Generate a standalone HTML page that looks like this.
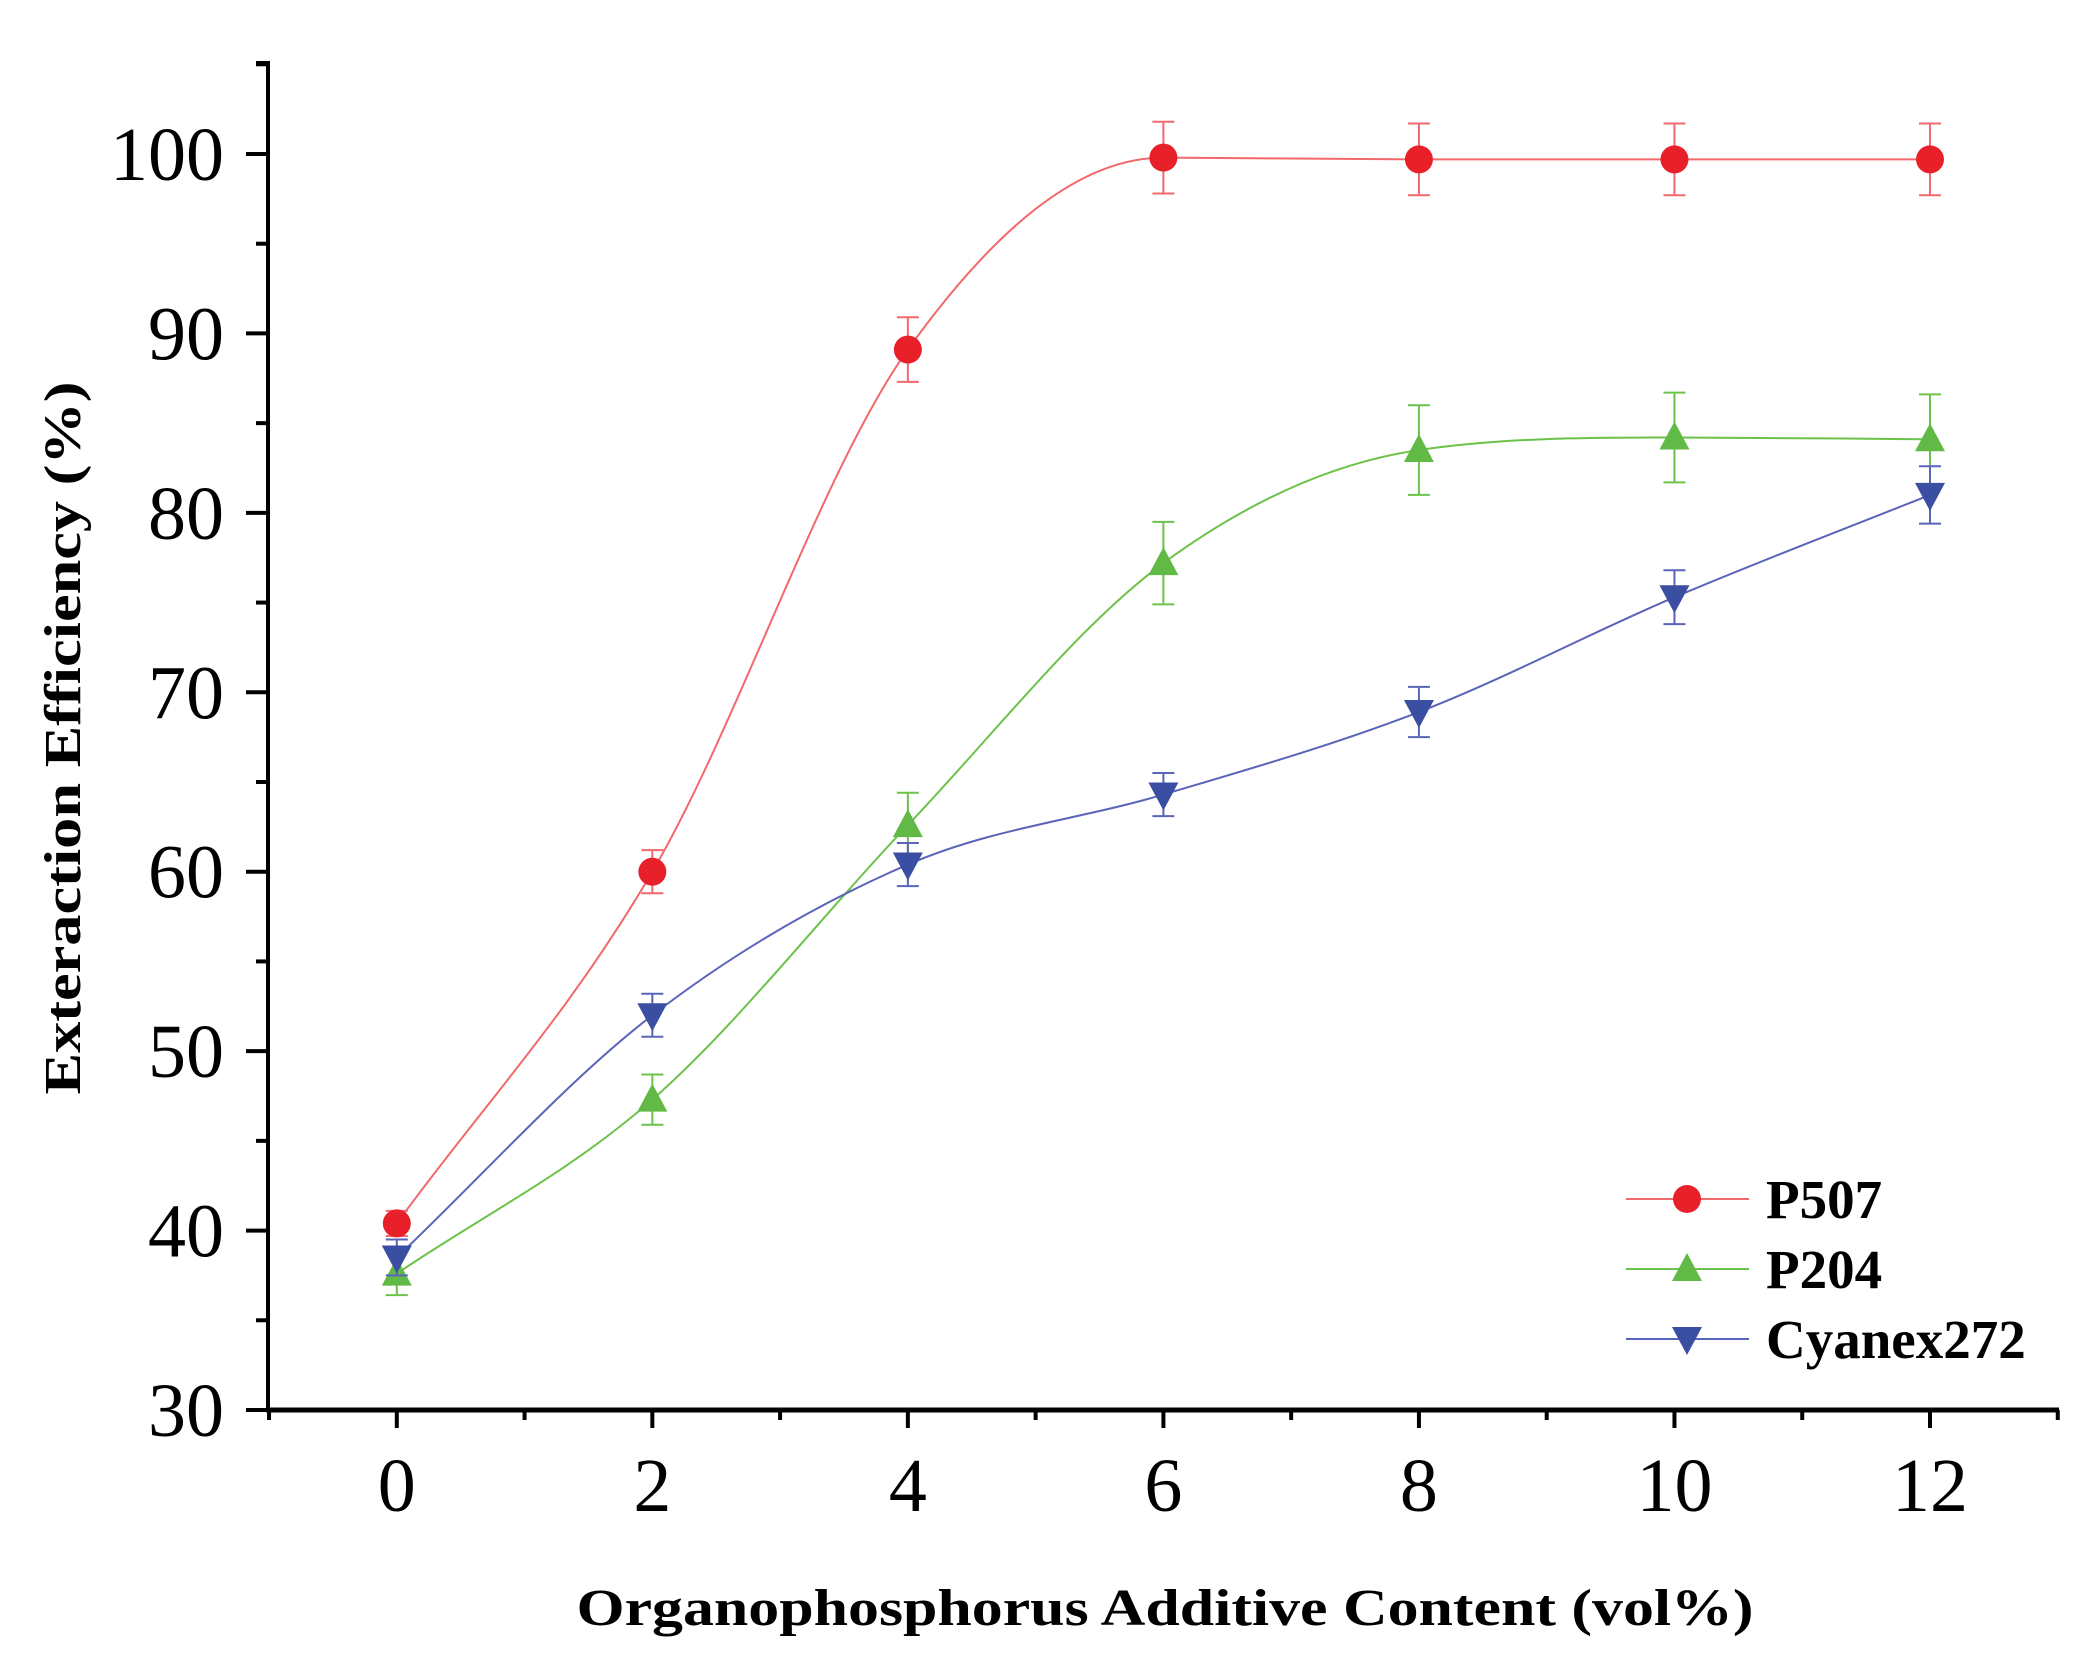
<!DOCTYPE html>
<html><head><meta charset="utf-8"><style>
html,body{margin:0;padding:0;background:#fff;}
svg{display:block;}
</style></head><body>
<svg id="chart" width="2091" height="1668" viewBox="0 0 2091 1668" xmlns="http://www.w3.org/2000/svg">
<g id="axes"></g>
<g id="series"></g>
<g id="legend"></g>
<text x="1165" y="1625" text-anchor="middle" font-family="Liberation Serif, serif" font-weight="bold" font-size="52" textLength="1177" lengthAdjust="spacingAndGlyphs">Organophosphorus Additive Content (vol%)</text>
<text transform="translate(80,738) rotate(-90)" text-anchor="middle" font-family="Liberation Serif, serif" font-weight="bold" font-size="52" textLength="713" lengthAdjust="spacingAndGlyphs">Exteraction Efficiency (%)</text>
</svg>
<script>
const xValues = [0, 2, 4, 6, 8, 10, 12];
const p507 = [40.4, 60.0, 89.1, 99.8, 99.7, 99.7, 99.7];
const p507Err = [0.7, 1.2, 1.8, 2.0, 2.0, 2.0, 2.0];
const p204 = [37.6, 47.3, 62.6, 77.2, 83.5, 84.2, 84.1];
const p204Err = [1.2, 1.4, 1.8, 2.3, 2.5, 2.5, 2.5];
const cyanex = [38.5, 52.0, 60.4, 64.3, 68.9, 75.3, 81.0];
const cyanexErr = [1.0, 1.2, 1.2, 1.2, 1.4, 1.5, 1.6];
const xTicks = [0, 2, 4, 6, 8, 10, 12];
const yTicks = [30, 40, 50, 60, 70, 80, 90, 100];
const seriesNames = ["P507", "P204", "Cyanex272"];

const NS = "http://www.w3.org/2000/svg";
function X(v){ return 396.8 + (v - 0) * (1930 - 396.8) / 12; }
function Y(v){ return 1410 - (v - 30) * (1410 - 154) / 70; }
function mk(tag, attrs, parent){
  const e = document.createElementNS(NS, tag);
  for (const k in attrs) e.setAttribute(k, attrs[k]);
  parent.appendChild(e);
  return e;
}
const axes = document.getElementById('axes');
const ser = document.getElementById('series');
const leg = document.getElementById('legend');

let l = mk('line', {x1:268, y1:63, x2:268, y2:1412, stroke:'#000', 'stroke-width':4}, axes);


l = mk('line', {x1:266, y1:1410, x2:2059, y2:1410, stroke:'#000', 'stroke-width':5}, axes);


l = mk('line', {x1:256, y1:63, x2:270, y2:63, stroke:'#000', 'stroke-width':4}, axes);



for (let v = 30; v <= 105; v += 5) {
  const major = v % 10 === 0;
  const t = mk('line', {x1: major ? 246 : 256, y1: Y(v), x2: 268, y2: Y(v), stroke:'#000', 'stroke-width':4}, axes);
  
  
}
yTicks.forEach(v => {
  const t = mk('text', {x:224, y:Y(v)+26, 'text-anchor':'end', 'font-family':'Liberation Serif, serif', 'font-size':76}, axes);
  t.textContent = v;
  
  
});
for (let v = -1; v <= 13; v += 1) {
  const major = v % 2 === 0;
  const t = mk('line', {x1:X(v), y1:1410, x2:X(v), y2: major ? 1428 : 1420, stroke:'#000', 'stroke-width':4}, axes);
  
  
}
xTicks.forEach(v => {
  const t = mk('text', {x:X(v), y:1511, 'text-anchor':'middle', 'font-family':'Liberation Serif, serif', 'font-size':76}, axes);
  t.textContent = v;
  
  
});

function monoPath(xs, ys){
  const n = xs.length, px = xs.map(X), py = ys.map(Y);
  const d = [], m = [];
  for (let i = 0; i < n-1; i++) d.push((py[i+1]-py[i])/(px[i+1]-px[i]));
  m[0] = d[0]; m[n-1] = d[n-2];
  for (let i = 1; i < n-1; i++) m[i] = (d[i-1]*d[i] <= 0) ? 0 : (d[i-1]+d[i])/2;
  for (let i = 0; i < n-1; i++) {
    if (d[i] === 0) { m[i] = 0; m[i+1] = 0; continue; }
    const a = m[i]/d[i], b = m[i+1]/d[i], s = a*a+b*b;
    if (s > 9) { const t = 3/Math.sqrt(s); m[i] = t*a*d[i]; m[i+1] = t*b*d[i]; }
  }
  let p = 'M' + px[0] + ',' + py[0];
  for (let i = 0; i < n-1; i++) {
    const h = (px[i+1]-px[i])/3;
    p += ' C' + (px[i]+h) + ',' + (py[i]+m[i]*h) + ' ' + (px[i+1]-h) + ',' + (py[i+1]-m[i+1]*h) + ' ' + px[i+1] + ',' + py[i+1];
  }
  return p;
}
function marker(type, cx, cy, color, parent){
  let e;
  if (type === 'circle') e = mk('circle', {cx:cx, cy:cy, r:14, fill:color}, parent);
  else if (type === 'up') e = mk('polygon', {points:`${cx},${cy-16} ${cx-15},${cy+12} ${cx+15},${cy+12}`, fill:color}, parent);
  else e = mk('polygon', {points:`${cx-15},${cy-12} ${cx+15},${cy-12} ${cx},${cy+16}`, fill:color}, parent);
  return e;
}
const cfg = [
  {vals:p507, err:p507Err, line:'#f2696d', color:'#e8202a', m:'circle', key:'p507'},
  {vals:p204, err:p204Err, line:'#6cc24a', color:'#62ba46', m:'up', key:'p204'},
  {vals:cyanex, err:cyanexErr, line:'#5b64b8', color:'#3a4ea2', m:'down', key:'cyanex272'}
];
cfg.forEach((c, si) => {
  const g = mk('g', {}, ser);
  
  
  const path = mk('path', {d: monoPath(xValues, c.vals), fill:'none', stroke:c.line, 'stroke-width':2}, g);
  
  
  xValues.forEach((xv, i) => {
    const cx = X(xv), cy = Y(c.vals[i]), top = Y(c.vals[i] + c.err[i]), bot = Y(c.vals[i] - c.err[i]);
    const eb = mk('path', {d:`M${cx},${top} V${bot} M${cx-11},${top} H${cx+11} M${cx-11},${bot} H${cx+11}`, stroke:c.line, 'stroke-width':2, fill:'none'}, g);
    
    
    const mkr = marker(c.m, cx, cy, c.color, g);
    
    
  });
  const ly = 1199 + si * 70;
  const lg = mk('g', {}, leg);
  
  
  mk('line', {x1:1626, y1:ly, x2:1749, y2:ly, stroke:c.line, 'stroke-width':2}, lg);
  marker(c.m, 1687, ly, c.color, lg);
  const t = mk('text', {x:1766, y:ly+19, 'font-family':'Liberation Serif, serif', 'font-weight':'bold', 'font-size':55}, lg);
  t.textContent = seriesNames[si];
});
</script>
</body></html>
